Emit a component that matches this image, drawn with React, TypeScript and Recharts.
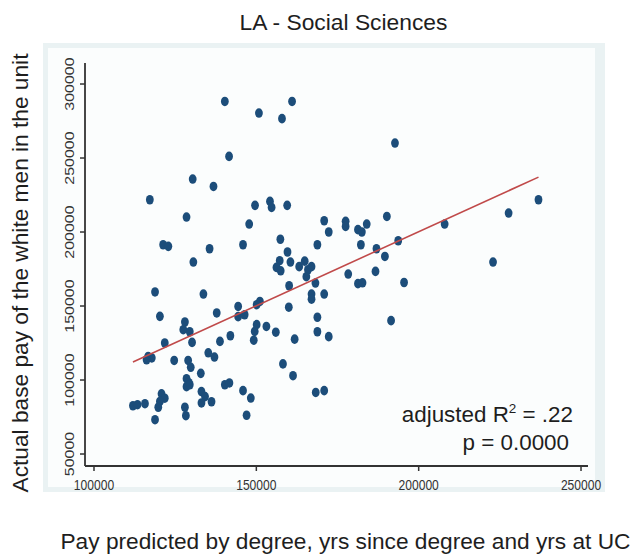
import React from "react";
import { ScatterChart, Scatter, XAxis, YAxis } from "recharts";

const payPredicted = [
  140300, 150800, 157900, 161000, 141600, 130400, 136800, 117200, 149600, 154200,
  154700, 159500, 128500, 147800, 170900, 172300, 192700, 236900, 227700, 208000,
  222900, 190200, 177500, 177500, 181300, 182500, 184000, 121300, 122900, 135600,
  145900, 157400, 168800, 182200, 187000, 193700, 159600, 160500, 130600, 157200,
  156200, 157500, 163200, 164900, 165900, 167000, 189600, 178300, 186700, 165400,
  168200, 160100, 181300, 182700, 195500, 118800, 133700, 167000, 167000, 170900,
  151100, 150100, 144400, 144400, 146400, 160000, 120300, 137800, 168800, 191500,
  128000, 127500, 129500, 150100, 149500, 153100, 156000, 168800, 172300, 142000,
  138800, 130200, 121800, 149200, 161800, 116700, 117800, 116200, 124700, 129000,
  129800, 135200, 137100, 158200, 132900, 161300, 128500, 129200, 128500, 129500,
  140300, 141700, 133100, 134200, 133100, 136200, 145900, 148300, 168300, 170900,
  120800, 121800, 120300, 119800, 112000, 113400, 115700, 128000, 128300, 118800,
  147000,
];
const payActual = [
  288200, 280400, 276600, 288200, 251100, 235800, 230800, 221800, 218000, 220700,
  216600, 218000, 210100, 205400, 207600, 200000, 260100, 221800, 212800, 205400,
  179700, 210500, 207200, 203800, 201600, 200000, 205400, 191400, 190300, 188700,
  191400, 195100, 191400, 191400, 188700, 194100, 186500, 179700, 179700, 180600,
  176100, 173800, 176600, 180300, 174500, 176600, 183500, 171600, 173400, 169800,
  165500, 163700, 165100, 165700, 165900, 159500, 158100, 158100, 154600, 158100,
  153100, 150900, 149700, 142800, 144100, 149200, 143000, 145300, 142400, 140100,
  139200, 134000, 132600, 137400, 132800, 136200, 132300, 132600, 129300, 129900,
  126100, 125400, 125000, 126900, 127600, 115900, 114900, 113700, 113200, 113200,
  108600, 118400, 115500, 110900, 104500, 102900, 100900, 98200, 95500, 96800,
  96800, 98000, 92200, 88800, 84500, 85300, 92800, 87800, 91600, 92800,
  90700, 87700, 85500, 81600, 82600, 83300, 84000, 81600, 75900, 73200,
  76200,
];

// fitted line end points
const fitX = [112000, 236900];
const fitY = [112200, 237100];

const xTicks = [100000, 150000, 200000, 250000];
const yTicks = [50000, 100000, 150000, 200000, 250000, 300000];

const points = payPredicted.map((x, i) => ({ x, y: payActual[i] }));
const fitLine = fitX.map((x, i) => ({ x, y: fitY[i] }));

const FONT = "'Liberation Sans', Arial, Helvetica, sans-serif";
const DOT = "#1c4d7a";
const FIT = "#c04a4a";
const AXIS = "#333";

function XTick(props: any) {
  const { x, y, payload } = props;
  return (
    <text
      transform={`translate(${x}, ${y + 17}) scale(0.78, 1)`}
      textAnchor="middle"
      fontSize={15.5}
      fontFamily={FONT}
      fill="#333"
    >
      {payload.value}
    </text>
  );
}

function YTick(props: any) {
  const { x, y, payload } = props;
  return (
    <text
      transform={`translate(${x - 4.5}, ${y}) rotate(-90) scale(1, 0.78)`}
      textAnchor="middle"
      fontSize={16}
      fontFamily={FONT}
      fill="#333"
    >
      {payload.value}
    </text>
  );
}

function Dot(props: any) {
  const { cx, cy } = props;
  return <ellipse cx={cx} cy={cy} rx={3.9} ry={4.8} fill={DOT} />;
}

export default function App() {
  return (
    <div style={{ position: "absolute", left: 0, top: 0, width: 633, height: 555, background: "#fff" }}>
      <div style={{ position: "absolute", left: 43, top: 43, width: 562, height: 449, background: "#eaf2f3" }} />
      <div style={{ position: "absolute", left: 48, top: 48, width: 547, height: 439, background: "#fbfdfd" }} />
      <div style={{ position: "absolute", left: 0, top: 0 }}>
        <ScatterChart width={633} height={555} margin={{ top: 63, right: 45, bottom: 59, left: 0 }}>
          <XAxis
            type="number"
            dataKey="x"
            domain={[97230, 252150]}
            ticks={xTicks}
            tick={XTick}
            tickSize={5}
            height={30}
            axisLine={{ stroke: AXIS, strokeWidth: 1.8 }}
            tickLine={{ stroke: AXIS, strokeWidth: 1.5 }}
          />
          <YAxis
            type="number"
            dataKey="y"
            domain={[41900, 314200]}
            ticks={yTicks}
            tick={YTick}
            tickSize={5}
            width={85}
            axisLine={{ stroke: AXIS, strokeWidth: 1.8 }}
            tickLine={{ stroke: AXIS, strokeWidth: 1.5 }}
          />
          <Scatter data={points} shape={Dot} isAnimationActive={false} />
          <Scatter
            data={fitLine}
            line={{ stroke: FIT, strokeWidth: 1.6 }}
            shape={() => <g />}
            isAnimationActive={false}
          />
        </ScatterChart>
      </div>
      <svg width={633} height={555} style={{ position: "absolute", left: 0, top: 0, pointerEvents: "none" }}>
        <g fontFamily={FONT} fill="#1e1e1e">
          <text x={343.5} y={29.5} textAnchor="middle" fontSize={22.8}>LA - Social Sciences</text>
          <text x={345.5} y={549} textAnchor="middle" fontSize={22.7}>
            Pay predicted by degree, yrs since degree and yrs at UC
          </text>
          <text transform="translate(28, 273) rotate(-90)" textAnchor="middle" fontSize={22.7}>
            Actual base pay of the white men in the unit
          </text>
          <text x={573} y={421.5} textAnchor="end" fontSize={22.4}>
            adjusted R<tspan fontSize={13.5} dy={-9}>2</tspan><tspan dy={9}> = .22</tspan>
          </text>
          <text x={569} y={450} textAnchor="end" fontSize={22.4}>p = 0.0000</text>
        </g>
      </svg>
    </div>
  );
}
